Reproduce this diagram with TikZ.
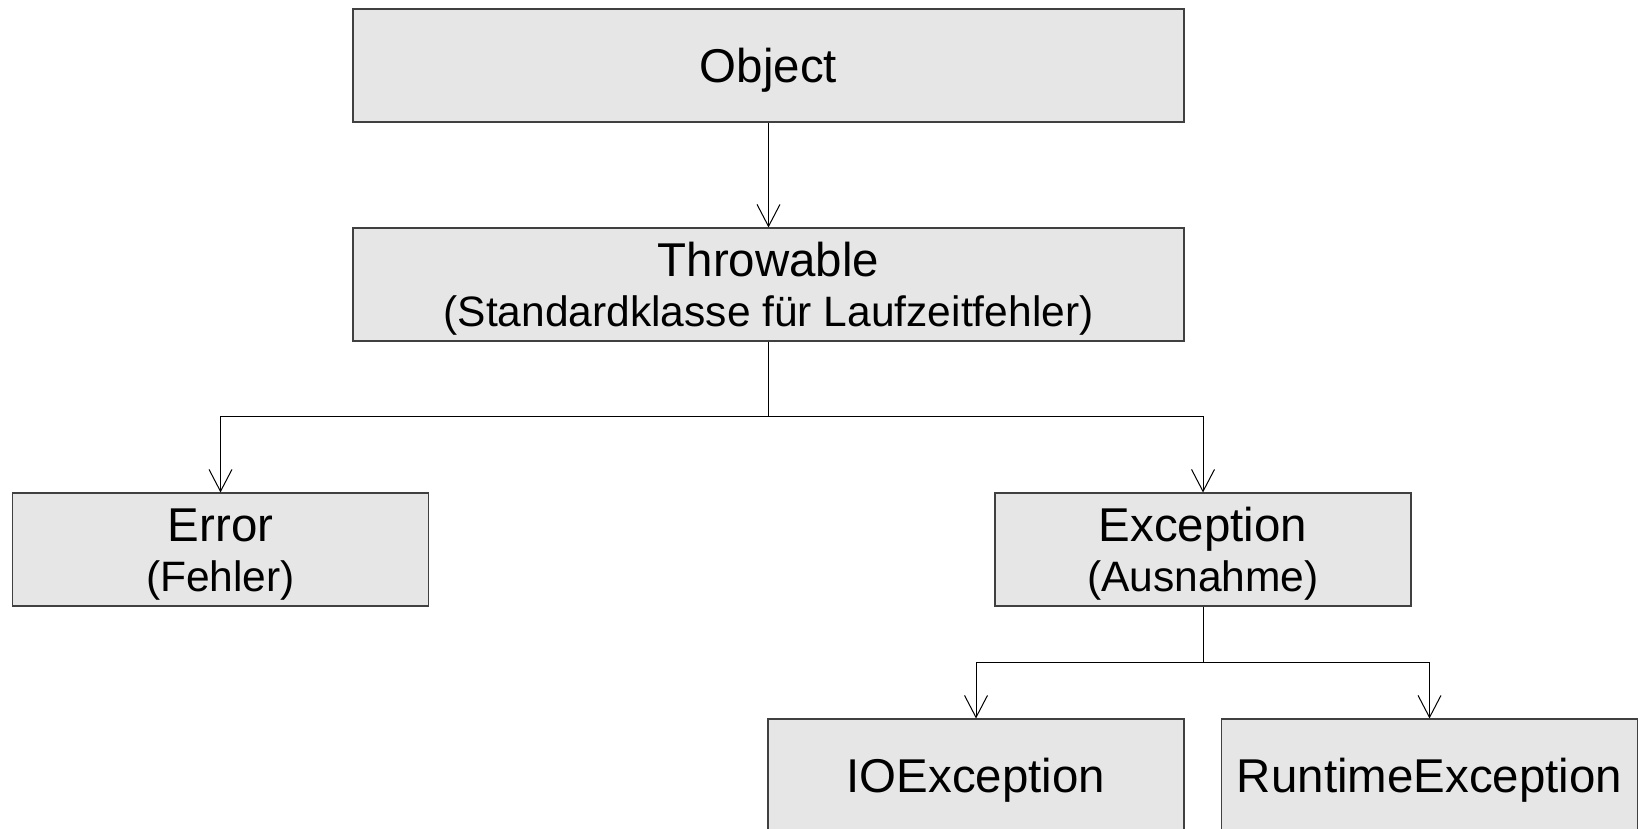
\documentclass[tikz,border=0pt]{standalone}
\usepackage{fontspec}
\setmainfont{Liberation Sans}
\usetikzlibrary{arrows.meta}
\definecolor{boxgray}{HTML}{E6E6E6}
\newcommand{\subtext}[1]{{\fontsize{24.2}{28}\selectfont #1}}
\newcommand{\tallstrut}{\rule{0pt}{0.91em}}

\begin{document}
\begin{tikzpicture}
\useasboundingbox (0,0) rectangle (32.82,-16.58);
\begin{scope}[every node/.style={rectangle,draw=black!75,fill=boxgray,line width=0.6pt,
              minimum width=8.32cm,minimum height=2.26cm,inner sep=0pt,
              align=center,font=\fontsize{27}{28.5}\selectfont}]
    \node[minimum width=16.62cm] (obj) at (15.37,-1.31) {\tallstrut Object};
    \node[minimum width=16.62cm] (thr) at (15.37,-5.69) {\tallstrut Throwable\\\subtext{(Standardklasse für Laufzeitfehler)}};
    \node (err) at (4.41,-10.99) {\tallstrut Error\\\subtext{(Fehler)}};
    \node (exc) at (24.06,-10.99) {\tallstrut Exception\\\subtext{(Ausnahme)}};
    \node (io) at (19.52,-15.51) {\tallstrut IOException};
    \node (rt) at (28.59,-15.51) {\tallstrut RuntimeException};
\end{scope}

\begin{scope}[>={Straight Barb[length=0.44cm,width=0.46cm]},
              line width=0.57pt]
    \coordinate (b1) at (15.37,-8.33);
    \coordinate (b2) at (24.06,-13.25);
    \draw [->] (obj) -- (thr);
    \draw (thr) -- (b1);
    \draw [->] (b1) -| (err.north);
    \draw [->] (b1) -| (exc.north);
    \draw (exc) -- (b2);
    \draw [->] (b2) -| (io.north);
    \draw [->] (b2) -| (rt.north);
\end{scope}
\end{tikzpicture}
\end{document}
